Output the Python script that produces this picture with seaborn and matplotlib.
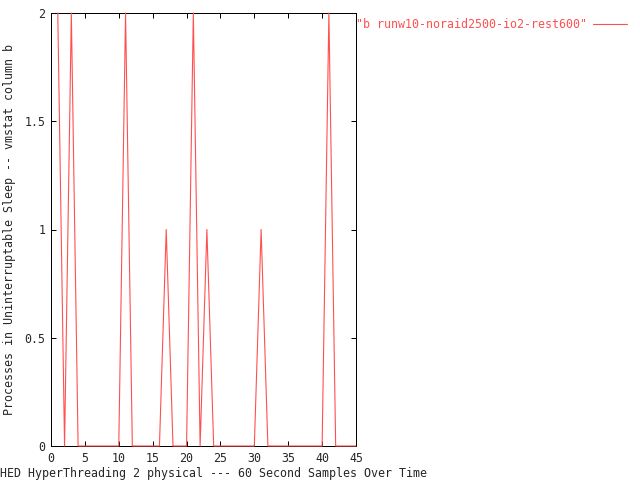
import matplotlib
matplotlib.use("Agg")
import matplotlib.pyplot as plt
import seaborn as sns
import pandas as pd

# Data
sample = list(range(1, 46))
procs_b = [2, 0, 2, 0, 0, 0, 0, 0, 0, 0,
           2, 0, 0, 0, 0, 0, 1, 0, 0, 0,
           2, 0, 1, 0, 0, 0, 0, 0, 0, 0,
           1, 0, 0, 0, 0, 0, 0, 0, 0, 0,
           2, 0, 0, 0, 0]
series_name = '"b runw10-noraid2500-io2-rest600"'
x_ticks = [0, 5, 10, 15, 20, 25, 30, 35, 40, 45]
y_ticks = [0, 0.5, 1, 1.5, 2]
y_tick_labels = ["0", "0.5", "1", "1.5", "2"]

df = pd.DataFrame({"sample": sample, "b": procs_b})

sns.set_style("white")
plt.rcParams["font.family"] = ["DejaVu Sans Mono", "DejaVu Sans"]

RED = "#ff5050"
FS = 8.35

fig = plt.figure(figsize=(6.4, 4.8), dpi=100)
ax = fig.add_axes([51 / 640, 34 / 480, 305 / 640, 433 / 480])

sns.lineplot(data=df, x="sample", y="b", ax=ax, color=RED, linewidth=0.8,
             legend=False, clip_on=False, zorder=5)

ax.set_xlim(0, 45)
ax.set_ylim(0, 2)
ax.set_xticks(x_ticks)
ax.set_xticklabels([str(t) for t in x_ticks])
ax.set_yticks(y_ticks)
ax.set_yticklabels(y_tick_labels)
ax.tick_params(direction="in", length=3.6, width=0.72, color="black",
               labelsize=FS, top=True, right=True, bottom=True, left=True,
               pad=4)
for s in ax.spines.values():
    s.set_visible(True)
    s.set_color("black")
    s.set_linewidth(0.72)
ax.set_xlabel("")
ax.set_ylabel("Processes in Uninterruptable Sleep -- vmstat column b",
              fontsize=FS)
ax.yaxis.set_label_coords(-35 / 305, 0.5)

fig.text(0 / 640, 1 - 473 / 480,
         "HED HyperThreading 2 physical --- 60 Second Samples Over Time",
         fontsize=FS, ha="left", va="center")

# legend (gnuplot-style key outside the plot)
fig.text(356 / 640, 1 - 24 / 480, series_name, fontsize=FS, color=RED,
         ha="left", va="center")
fig.add_artist(plt.Line2D([593 / 640, 627 / 640], [1 - 24 / 480, 1 - 24 / 480],
                          color=RED, linewidth=0.8))

fig.savefig("out.png", dpi=100)
